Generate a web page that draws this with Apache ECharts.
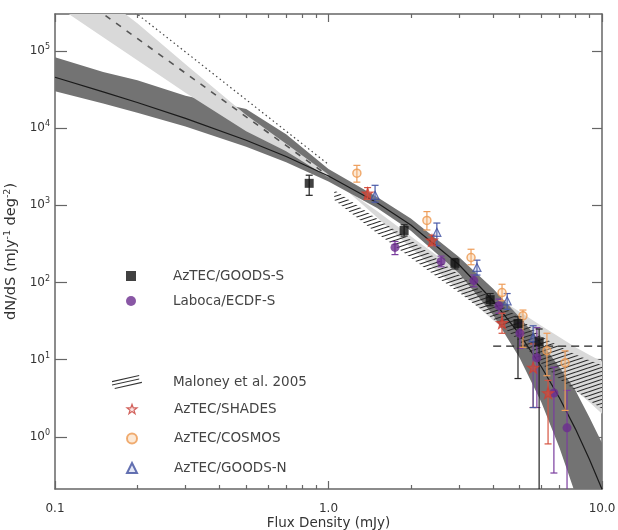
<!DOCTYPE html>
<html>
<head>
<meta charset="utf-8">
<style>
  * { margin: 0; padding: 0; }
  body { background: #fff; }
  #chart { width: 618px; height: 530px; }
</style>
</head>
<body>
<div id="chart"></div>
<script src="https://cdn.jsdelivr.net/npm/echarts@6/dist/echarts.min.js"></script>
<script>
// ---- values (flux in mJy, counts in mJy^-1 deg^-2) ----
var xMin = 0.1, xMax = 10;
var yMin = 0.211, yMax = 302000;
var xMajorTicks = [0.1, 1, 10];
var xTickLabels = ['0.1', '1.0', '10.0'];
var xMinorTicks = [0.2, 0.3, 0.4, 0.5, 0.6, 0.7, 0.8, 0.9, 2, 3, 4, 5, 6, 7, 8, 9];
var yMajorTicks = [1, 10, 100, 1000, 10000, 100000];

// fitted model (solid) and its dark uncertainty band
var fitS      = [0.1, 0.15, 0.2, 0.3, 0.5, 0.7, 1.0, 1.5, 2, 3, 4, 5, 6, 7, 8, 9, 10];
var fitLine   = [45700, 29600, 21500, 13400, 6970, 4300, 2400, 1090, 556, 170, 58, 21.3, 8.1, 3.17, 1.26, 0.51, 0.21];
var fitBandHi = [83200, 53700, 41700, 26300, 17800, 8320, 2950, 1290, 676, 214, 83, 35.5, 16.6, 7.9, 4.0, 1.78, 0.83];
var fitBandLo = [30200, 20900, 15800, 10500, 5750, 3630, 2040, 933, 468, 132, 38, 10.5, 2.8, 0.71, 0.18, 0.04, 0.01];

// power law (dashed) and its light band
var plBandA = [398000, 151000, 75900, 28800, 9120, 5010, 2290, 851, 398, 138, 69, 41.7, 27.5, 19.5, 14.5, 11.5, 9.5];
var plBandB = [1780000, 501000, 229000, 67600, 14800, 6310, 2510, 708, 282, 79.4, 32.4, 17, 10, 6.3, 4.0, 2.8, 2.0];
var dashedS = [0.14, 1.0];
var dashedN = [361000, 2400];
var dottedS = [0.19, 1.0];
var dottedN = [347000, 3390];

// Maloney et al. 2005 hatched region
var malS  = [1.05, 1.5, 2, 2.5, 3, 4, 5, 6, 7, 8, 9, 10];
var malHi = [1585, 676, 355, 200, 126, 60, 34.7, 20, 14.8, 11.7, 9.8, 8.5];
var malLo = [1175, 437, 209, 117, 74, 34, 17.4, 8.9, 5.6, 4.0, 2.95, 2.3];

// one-source level
var limitS = [4, 10];
var limitN = [15, 15];

// data points
var goodsS_S  = [0.85, 1.89, 2.90, 3.90, 4.93, 5.89];
var goodsS_N  = [1930, 473, 177, 60, 29.4, 17.1];
var goodsS_lo = [1350, 400, 150, 50, 5.7, 0.1];
var goodsS_hi = [2460, 560, 205, 72, 36, 25];

var laboca_S  = [1.75, 2.58, 3.40, 4.20, 5.01, 5.78, 6.67, 7.45];
var laboca_N  = [285, 188, 106, 50, 22, 10.6, 3.7, 1.31];
var laboca_lo = [230, 160, 88, 40, 14, 2.4, 0.34, 0.1];
var laboca_hi = [340, 220, 125, 61, 30, 26, 8, 4];

var shades_S  = [1.39, 2.39, 4.31, 5.6, 6.35];
var shades_N  = [1430, 351, 30, 7.9, 3.7];
var shades_lo = [1200, 300, 22, 2.4, 0.81];
var shades_hi = [1700, 410, 40, 16, 5.4];

var cosmos_S  = [1.27, 2.29, 3.32, 4.31, 5.14, 6.29, 7.33];
var cosmos_N  = [2610, 638, 211, 74, 37, 13.1, 9.1];
var cosmos_lo = [2000, 480, 170, 58, 14.5, 6.2, 2.2];
var cosmos_hi = [3300, 830, 270, 95, 44, 22, 13];

var goodsN_S  = [1.48, 2.49, 3.49, 4.50, 5.6];
var goodsN_N  = [1350, 447, 157, 58, 19.3];
var goodsN_lo = [1100, 300, 125, 45, 2.4];
var goodsN_hi = [1820, 590, 195, 72, 27.5];

var lg = Math.log10;
var font = 'DejaVu Sans';
var starPath = 'path://M0,-10L2.35,-3.24L9.51,-3.09L3.8,1.24L5.88,8.09L0,4L-5.88,8.09L-3.8,1.24L-9.51,-3.09L-2.35,-3.24Z';
var hatchIcon = 'path://M0,7L40,-2L40,-0.4L0,8.6Z M0,12L40,3L40,4.6L0,13.6Z M4,17L44,8L44,9.6L4,18.6Z';

// hatch fill pattern
var hatch = document.createElement('canvas');
hatch.width = 12; hatch.height = 4;
(function () {
  var c = hatch.getContext('2d');
  c.strokeStyle = '#2a2a2a';
  c.lineWidth = 1.1;
  [-4, 0, 4].forEach(function (d) {
    c.beginPath(); c.moveTo(0, 4 + d); c.lineTo(12, 0 + d); c.stroke();
  });
})();

function pts(xs, ys) {
  return xs.map(function (s, i) { return [lg(s), lg(ys[i])]; });
}

function rectOf(cs) {
  return { x: cs.x, y: cs.y, width: cs.width, height: cs.height };
}

function band(name, xs, lo, hi, from, to, fill, z) {
  return {
    type: 'custom', name: name, silent: true, z: z,
    data: [[lg(xs[from]), lg(lo[from])]],
    renderItem: function (params, api) {
      var p = [];
      for (var i = from; i <= to; i++) p.push(api.coord([lg(xs[i]), lg(hi[i])]));
      for (var j = to; j >= from; j--) p.push(api.coord([lg(xs[j]), lg(lo[j])]));
      return {
        type: 'polygon',
        shape: { points: p },
        style: { fill: fill, stroke: null },
        clipPath: { type: 'rect', shape: rectOf(params.coordSys) }
      };
    }
  };
}

function errors(name, xs, lo, hi, color) {
  return {
    type: 'custom', name: name + ' err', silent: true, z: 4,
    data: xs.map(function (s, i) { return [lg(s), lg(lo[i]), lg(hi[i])]; }),
    encode: { x: 0, y: [1, 2] },
    renderItem: function (params, api) {
      var cs = params.coordSys;
      var bottom = cs.y + cs.height;
      var a = api.coord([api.value(0), api.value(1)]);
      var b = api.coord([api.value(0), api.value(2)]);
      var st = { stroke: color, lineWidth: 1.2 };
      var kids = [
        { type: 'line', shape: { x1: a[0], y1: Math.min(a[1], bottom), x2: b[0], y2: b[1] }, style: st },
        { type: 'line', shape: { x1: b[0] - 3.5, y1: b[1], x2: b[0] + 3.5, y2: b[1] }, style: st }
      ];
      if (a[1] < bottom) kids.push({ type: 'line', shape: { x1: a[0] - 3.5, y1: a[1], x2: a[0] + 3.5, y2: a[1] }, style: st });
      return { type: 'group', children: kids };
    }
  };
}

function points(name, xs, ys, symbol, size, style) {
  return {
    type: 'scatter', name: name, z: 5, symbol: symbol, symbolSize: size,
    data: pts(xs, ys), itemStyle: style
  };
}

function line(name, xs, ys, style, z) {
  return {
    type: 'line', name: name, data: pts(xs, ys), symbol: 'none', z: z,
    lineStyle: style, silent: true, clip: true
  };
}

var frame = { show: true, onZero: false, lineStyle: { color: '#666', width: 1.5 } };
var noLine = { show: false, onZero: false };
var tickStyle = { color: '#666', width: 1.2 };

function xAxis(pos, ticks, len, labels) {
  return {
    type: 'value', position: pos, min: lg(xMin), max: lg(xMax),
    axisLine: (labels || (pos === 'top' && len > 5)) ? frame : noLine,
    axisTick: { show: true, inside: true, length: len, customValues: ticks.map(lg), lineStyle: tickStyle },
    axisLabel: labels ? {
      customValues: xMajorTicks.map(lg), margin: 14, fontSize: 12, color: '#333', fontFamily: font,
      formatter: function (v) { return xTickLabels[Math.round(v) + 1]; }
    } : { show: false },
    splitLine: { show: false }
  };
}

var legendText = function (pad) {
  return { fontSize: 13.5, lineHeight: 14, color: '#444', fontFamily: font, padding: [0, 0, 0, pad] };
};

var chart = echarts.init(document.getElementById('chart'));
chart.setOption({
  animation: false,
  textStyle: { fontFamily: font },
  grid: { left: 55, right: 16, top: 14, bottom: 41, containLabel: false, outerBoundsMode: 'none' },
  xAxis: [
    Object.assign(xAxis('bottom', xMajorTicks, 8, true), {
      name: 'Flux Density (mJy)', nameLocation: 'middle', nameGap: 27, nameMoveOverlap: false,
      nameTextStyle: { fontSize: 13.5, color: '#333', fontFamily: font }
    }),
    xAxis('bottom', xMinorTicks, 4, false),
    xAxis('top', xMajorTicks, 8, false),
    xAxis('top', xMinorTicks, 4, false)
  ],
  yAxis: [
    {
      type: 'value', position: 'left', min: lg(yMin), max: lg(yMax),
      axisLine: frame,
      axisTick: { show: true, inside: true, length: 12, customValues: yMajorTicks.map(lg), lineStyle: tickStyle },
      axisLabel: {
        customValues: yMajorTicks.map(lg), margin: 5, color: '#333',
        formatter: function (v) { return '{b|10}{s|' + Math.round(v) + '}'; },
        rich: {
          b: { fontSize: 12, lineHeight: 16, color: '#333', fontFamily: font },
          s: { fontSize: 8, lineHeight: 8, verticalAlign: 'top', color: '#333', fontFamily: font }
        }
      },
      splitLine: { show: false },
      name: 'dN/dS (mJy{s|-1} deg{s|-2})', nameLocation: 'middle', nameGap: 36, nameMoveOverlap: false,
      nameTextStyle: {
        fontSize: 14.5, color: '#333', lineHeight: 16, fontFamily: font,
        rich: { s: { fontSize: 9.5, lineHeight: 9, verticalAlign: 'top', color: '#333', fontFamily: font } }
      }
    },
    {
      type: 'value', position: 'right', min: lg(yMin), max: lg(yMax),
      axisLine: frame,
      axisTick: { show: true, inside: true, length: 10, customValues: yMajorTicks.map(lg), lineStyle: tickStyle },
      axisLabel: { show: false }, splitLine: { show: false }
    }
  ],
  legend: [
    {
      left: 126, top: 269, orient: 'vertical', padding: 0, itemWidth: 10, itemHeight: 10, itemGap: 11,
      selectedMode: false, textStyle: legendText(32),
      data: [{ name: 'AzTEC/GOODS-S', icon: 'rect' }, { name: 'Laboca/ECDF-S', icon: 'circle' }]
    },
    {
      left: 112, top: 375, orient: 'vertical', padding: 0, itemWidth: 42, itemHeight: 14,
      selectedMode: false, textStyle: legendText(20),
      data: [{ name: 'Maloney et al. 2005', icon: hatchIcon, itemStyle: { color: '#333' } }]
    },
    {
      left: 126, top: 402, orient: 'vertical', padding: 0, itemWidth: 10, itemHeight: 10, itemGap: 15.5,
      selectedMode: false, textStyle: legendText(32),
      data: [
        { name: 'AzTEC/SHADES', icon: starPath, itemStyle: { color: 'rgba(240,160,160,0.35)', borderColor: '#c8413a', borderWidth: 1.2 } },
        { name: 'AzTEC/COSMOS', icon: 'circle' },
        { name: 'AzTEC/GOODS-N', icon: 'triangle' }
      ]
    }
  ],
  series: [
    band('light band (high flux)', fitS, plBandA, plBandB, 6, 16, '#d9d9d9', 1),
    band('fit band', fitS, fitBandLo, fitBandHi, 0, 16, '#737373', 1),
    band('light band (low flux)', fitS, plBandA, plBandB, 0, 6, '#d9d9d9', 1),
    band('Maloney et al. 2005', malS, malLo, malHi, 0, malS.length - 1, { image: hatch, repeat: 'repeat' }, 2),
    line('dotted', dottedS, dottedN, { color: '#444', width: 1.2, type: [1.5, 3] }, 3),
    line('dashed', dashedS, dashedN, { color: '#555', width: 1.6, type: [6, 7] }, 3),
    line('fit', fitS, fitLine, { color: '#1a1a1a', width: 1.2 }, 3),
    line('limit', limitS, limitN, { color: '#222', width: 1.2, type: [8, 5] }, 3),
    errors('Laboca/ECDF-S', laboca_S, laboca_lo, laboca_hi, '#7a3d9e'),
    errors('AzTEC/SHADES', shades_S, shades_lo, shades_hi, '#d65340'),
    errors('AzTEC/COSMOS', cosmos_S, cosmos_lo, cosmos_hi, '#ee9d5a'),
    errors('AzTEC/GOODS-N', goodsN_S, goodsN_lo, goodsN_hi, '#4a5aa8'),
    errors('AzTEC/GOODS-S', goodsS_S, goodsS_lo, goodsS_hi, '#222'),
    points('Laboca/ECDF-S', laboca_S, laboca_N, 'circle', 9, { color: '#6b2d8f' }),
    points('AzTEC/SHADES', shades_S, shades_N, starPath, 11, { color: 'rgba(214,72,56,0.75)', borderColor: '#cf3f33', borderWidth: 1.2 }),
    points('AzTEC/COSMOS', cosmos_S, cosmos_N, 'circle', 8, { color: 'rgba(248,195,140,0.45)', borderColor: '#ec9850', borderWidth: 1.5 }),
    points('AzTEC/GOODS-N', goodsN_S, goodsN_N, 'triangle', 8, { color: 'rgba(140,155,215,0.3)', borderColor: '#3f4f9f', borderWidth: 1.2 }),
    points('AzTEC/GOODS-S', goodsS_S, goodsS_N, 'rect', 9, { color: '#111' })
  ]
});
</script>
</body>
</html>
